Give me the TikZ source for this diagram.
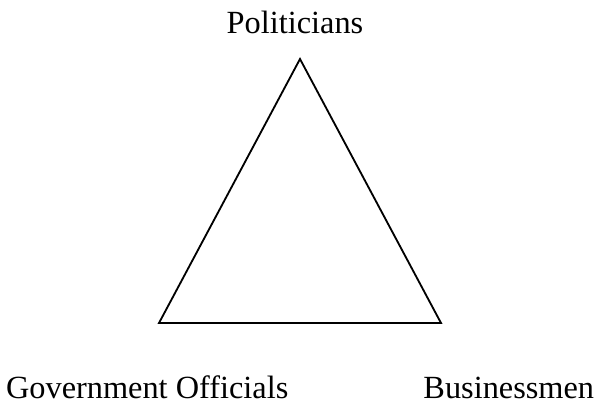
\documentclass[tikz,border=0pt]{standalone}
\usepackage{fontspec}
\setmainfont{Liberation Serif}
\usepackage{tikz}
\usetikzlibrary{positioning}

\begin{document}
\begin{tikzpicture}
               [corner/.style = {inner sep=0pt, minimum size=0pt}, lbl/.style={anchor=base, inner sep=0pt, font=\fontsize{23}{27}\selectfont}]
                % Frame
                \useasboundingbox (0,0) rectangle (15,-10.125);
                % Corners of the triangle
                \node[corner] (top) at (7.5,-1.475) {};
                \node[corner] (left) at (3.975,-8.075) {};
                \node[corner] (right) at (11.025,-8.075) {};
                % Labels
                \node[lbl] (pol) at (7.375,-0.84) {Politicians};
                \node[lbl] (gov) at (3.68,-9.95) {Government Officials};
                \node[lbl] (bus) at (12.72,-9.95) {Businessmen};
                % Sides
                \draw[line width=1.3pt, line join=miter] (top.center) -- (left.center) -- (right.center) -- cycle;
            \end{tikzpicture}
\end{document}
